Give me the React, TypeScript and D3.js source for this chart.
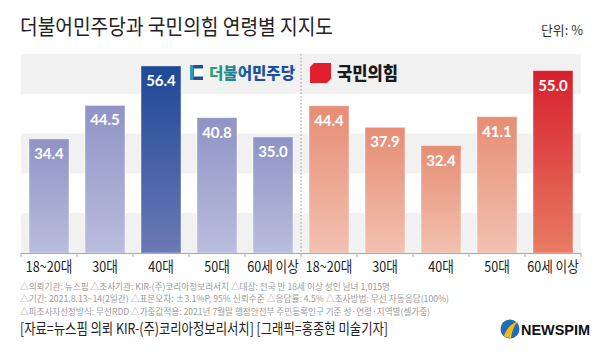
import React from "react";
import * as d3 from "d3";

const categories = ["18~20대", "30대", "40대", "50대", "60세 이상"];
const demValues = [34.4, 44.5, 56.4, 40.8, 35.0];
const pppValues = [44.4, 37.9, 32.4, 41.1, 55.0];
const demHighlight = "40대";
const pppHighlight = "60세 이상";
const yDomainMax = 60;
const bandBreaks = [0, 12, 24, 36, 48, 60];

const titleText = "더불어민주당과 국민의힘 연령별 지지도";
const unitText = "단위: %";
const footnotes = [
  "△의뢰기관: 뉴스핌  △조사기관: KIR-(주)코리아정보리서치  △대상: 전국 만 18세 이상 성인 남녀 1,015명",
  "△기간: 2021.8.13~14(2일간)  △표본오차: ±3.1%P, 95% 신뢰수준  △응답률: 4.5%  △조사방법: 무선 자동응답(100%)",
  "△피조사자선정방식: 무선RDD  △가중값적용: 2021년 7월말 행정안전부 주민등록인구 기준 성·연령·지역별(셀가중)",
];
const footnoteWidths = [370, 429, 410];
const sourceText = "[자료=뉴스핌 의뢰 KIR-(주)코리아정보리서치] [그래픽=홍종현 미술기자]";

type Row = { key: string; party: "dem" | "ppp"; cat: string; value: number; hi: boolean };

const rows: Row[] = [
  ...categories.map((c, i) => ({ key: "dem-" + c, party: "dem" as const, cat: c, value: demValues[i], hi: c === demHighlight })),
  ...categories.map((c, i) => ({ key: "ppp-" + c, party: "ppp" as const, cat: c, value: pppValues[i], hi: c === pppHighlight })),
];

const KR = "'Noto Sans CJK KR', 'Noto Sans', sans-serif";

export default function App() {
  const W = 600, H = 355;
  const left = 21, right = 581, top = 54, bottom = 253;
  const x = d3.scaleBand<string>().domain(rows.map((r) => r.key)).range([left, right]).paddingInner(16 / 56).paddingOuter(8 / 56);
  const y = d3.scaleLinear().domain([0, yDomainMax]).range([bottom, top]);
  const step = x.step();
  const boundaries = d3.range(rows.length + 1).map((i) => left + i * step);
  const midX = left + 5 * step;

  const fillFor = (r: Row) => `url(#g-${r.party}-${r.hi ? "hi" : "lo"})`;

  return (
    <svg width={W} height={H} style={{ position: "absolute", left: 0, top: 0, background: "#fff" }}>
      <defs>
        <linearGradient id="g-dem-lo" x1="0" y1="0" x2="0" y2="1">
          <stop offset="0" stopColor="#8f93c5" />
          <stop offset="1" stopColor="#babddd" />
        </linearGradient>
        <linearGradient id="g-dem-hi" x1="0" y1="0" x2="0" y2="1">
          <stop offset="0" stopColor="#1e4896" />
          <stop offset="1" stopColor="#6c79b5" />
        </linearGradient>
        <linearGradient id="g-ppp-lo" x1="0" y1="0" x2="0" y2="1">
          <stop offset="0" stopColor="#e68d75" />
          <stop offset="1" stopColor="#f2c1af" />
        </linearGradient>
        <linearGradient id="g-ppp-hi" x1="0" y1="0" x2="0" y2="1">
          <stop offset="0" stopColor="#d71f2d" />
          <stop offset="1" stopColor="#e87c64" />
        </linearGradient>
        <linearGradient id="g-demtext" x1="0" y1="0" x2="1" y2="0">
          <stop offset="0" stopColor="#2fa463" />
          <stop offset="0.3" stopColor="#1f7fa0" />
          <stop offset="0.45" stopColor="#1d4f9e" />
          <stop offset="1" stopColor="#1d4f9e" />
        </linearGradient>
      </defs>

      {/* Title */}
      <text x={20} y={34} fontFamily={KR} fontSize={21} fill="#222" textLength={313} lengthAdjust="spacingAndGlyphs">
        {titleText}
      </text>
      <text x={583} y={35} fontFamily={KR} fontSize={13} fill="#333" textAnchor="end" textLength={42} lengthAdjust="spacingAndGlyphs">
        {unitText}
      </text>

      {/* Background bands */}
      {bandBreaks.slice(0, -1).map((b, i) =>
        i % 2 === 0 ? (
          <rect key={i} x={left} width={right - left} y={y(bandBreaks[i + 1])} height={y(b) - y(bandBreaks[i + 1])} fill="#f1f1f1" />
        ) : null
      )}

      {/* Divider */}
      <line x1={midX} x2={midX} y1={top} y2={bottom} stroke="#9a9a9a" strokeWidth={1} strokeDasharray="1.5 2" />

      {/* Bars */}
      {rows.map((r) => (
        <rect key={r.key} x={x(r.key)} width={x.bandwidth()} y={y(r.value)} height={y(0) - y(r.value)} fill={fillFor(r)} stroke="rgba(255,255,255,0.45)" strokeWidth={1} />
      ))}
      {rows.map((r) => (
        <text key={"v" + r.key} x={(x(r.key) || 0) + x.bandwidth() / 2} y={y(r.value) + 20} textAnchor="middle" fontFamily="Lato, 'Open Sans', sans-serif" fontWeight={700} fontSize={15} fill="#fff">
          {r.value.toFixed(1)}
        </text>
      ))}

      {/* Axis */}
      <line x1={left} x2={right} y1={bottom + 0.5} y2={bottom + 0.5} stroke="#a8a8a8" strokeWidth={1} />
      {boundaries.map((bx, i) => (
        <line key={i} x1={bx} x2={bx} y1={bottom} y2={bottom + 4} stroke="#a8a8a8" strokeWidth={1} />
      ))}
      {rows.map((r) => (
        <text key={"l" + r.key} transform={`translate(${(x(r.key) || 0) + x.bandwidth() / 2},${272}) scale(0.84,1)`} textAnchor="middle" fontFamily={KR} fontSize={15} fill="#222">
          {r.cat}
        </text>
      ))}

      {/* Democratic logo */}
      <g>
        <rect x={190} y={65} width={13} height={15} fill="#1d4f9e" />
        <rect x={194} y={68.5} width={9} height={8} fill="#fff" />
        <rect x={190} y={65} width={3.5} height={15} fill="#2c9fb0" />
        <text x={209} y={79} fontFamily={KR} fontWeight={900} fontSize={16} fill="url(#g-demtext)" textLength={86} lengthAdjust="spacingAndGlyphs">
          더불어민주당
        </text>
      </g>

      {/* PPP logo */}
      <g>
        <path d="M314,63 L331,63 L331,79 L327,83 L310,83 L310,67 Z" fill="#e21f2c" />
        <text x={337} y={80} fontFamily={KR} fontWeight={900} fontSize={18} fill="#1a1a1a" textLength={61} lengthAdjust="spacingAndGlyphs">
          국민의힘
        </text>
      </g>

      {/* Footnotes */}
      {footnotes.map((f, i) => (
        <text key={i} x={20} y={289.5 + i * 12.5} fontFamily={KR} fontSize={8.6} fill="#9a9a9a" textLength={footnoteWidths[i]} lengthAdjust="spacingAndGlyphs">
          {f}
        </text>
      ))}

      {/* Source */}
      <text x={20} y={334} fontFamily={KR} fontSize={15} fill="#222" textLength={368} lengthAdjust="spacingAndGlyphs">
        {sourceText}
      </text>

      {/* NEWSPIM logo */}
      <g>
        <circle cx={510} cy={329} r={9.5} fill="#1f6db5" />
        <path d="M504,336 C506,330 510,324 518,321 C514,326 512,331 511,338 C508,338 506,337 504,336 Z" fill="#f5b81c" />
        <text x={521} y={335} fontFamily="'Liberation Sans', Arial, sans-serif" fontWeight={700} fontSize={15} fill="#111" textLength={69} lengthAdjust="spacingAndGlyphs">
          NEWSPIM
        </text>
      </g>
    </svg>
  );
}
